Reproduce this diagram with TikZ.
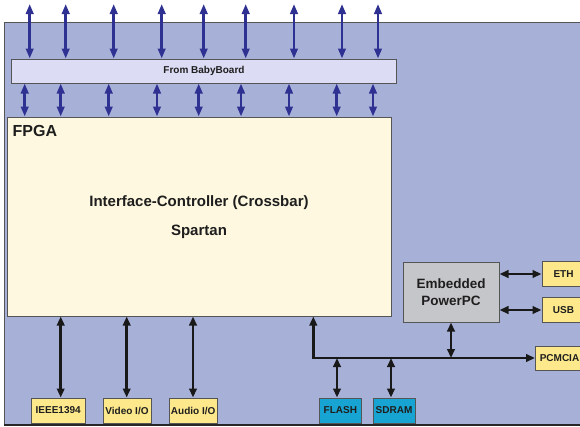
\documentclass[tikz,border=0pt]{standalone}
\usepackage{fontspec}
\setmainfont{Liberation Sans}
\usetikzlibrary{arrows.meta}
\definecolor{bgblue}{HTML}{A7B0D6}
\definecolor{bbfill}{HTML}{DCDCF4}
\definecolor{fpgafill}{HTML}{FDF8DF}
\definecolor{ylw}{HTML}{FDE98B}
\definecolor{cyanbox}{HTML}{18A4D2}
\definecolor{grayb}{HTML}{C5C6CA}
\definecolor{navy}{HTML}{2E3192}
\definecolor{edge}{HTML}{555555}
\definecolor{txt}{HTML}{1E1E1E}
\begin{document}
\begin{tikzpicture}[x=1pt,y=-1pt,
  box/.style={draw=edge,line width=1pt,inner sep=0pt,text=txt,font=\fontsize{10}{12}\selectfont\bfseries},
  smallbox/.style={box,fill=ylw,minimum height=25pt},
  cyanb/.style={box,fill=cyanbox,minimum height=25pt},
  barrow/.style={navy,line width=2.8pt,{Triangle[length=10pt,width=7.5pt]}-{Triangle[length=10pt,width=7.5pt]}},
  karrow/.style={black!90,line width=2.8pt,{Triangle[length=9pt,width=7.5pt]}-{Triangle[length=9pt,width=7.5pt]}},
  lbl/.style={inner sep=0pt,text=txt,font=\fontsize{15}{17}\selectfont\bfseries}]
\useasboundingbox (0,0) rectangle (580,426);
% background board
\fill[bgblue] (4,22) rectangle (592,425);
\draw[edge,line width=1pt] (4,425) -- (4,22) -- (592,22);
\draw[black!85,line width=1.2pt] (4,425) -- (592,425);

% BabyBoard bar
\node[box,fill=bbfill,minimum width=384.5pt,minimum height=24pt,font=\fontsize{10}{12}\selectfont\bfseries] (bb) at (204,71) {From BabyBoard};
% FPGA
\node[box,fill=fpgafill,minimum width=384pt,minimum height=199pt] (fpga) at (199,216.5) {};
\node[lbl,anchor=west,font=\fontsize{16}{18}\selectfont\bfseries] (fpgalbl) at (12.5,130.5) {FPGA};
\node[lbl] (ifc) at (199,203) {Interface-Controller (Crossbar)};
\node[lbl] (spartan) at (199,232) {Spartan};

% PowerPC
\node[box,fill=grayb,minimum width=96pt,minimum height=60pt,align=center,font=\fontsize{13.5}{17}\selectfont\bfseries] (ppc) at (451,292) {Embedded\\PowerPC};
\node[smallbox,minimum width=43pt] (eth) at (563.5,274) {ETH};
\node[smallbox,minimum width=43pt] (usb) at (563.5,310) {USB};
\node[smallbox,minimum width=48pt,minimum height=24pt] (pcm) at (559.5,358) {PCMCIA};

% bottom boxes
\node[smallbox,minimum width=54.3pt] (ieee) at (58.2,410.5) {IEEE1394};
\node[smallbox,minimum width=48pt] (video) at (127,410.5) {Video I/O};
\node[smallbox,minimum width=48.3pt] (audio) at (193.2,410.5) {Audio I/O};
\node[cyanb,minimum width=42pt] (flash) at (340.3,410.5) {FLASH};
\node[cyanb,minimum width=42pt] (sdram) at (394,410.5) {SDRAM};

% top arrows
\foreach \i/\x in {1/29.7,2/65.7,3/113.7,4/161.7,5/203.7,6/245.7,7/294,8/342,9/378}{
  \coordinate (t\i) at (\x,4);
  \draw[barrow] (t\i) -- (t\i |- bb.north);
}
% lower arrows
\foreach \i/\x in {1/24.7,2/60.7,3/108.7,4/157,5/198.7,6/241,7/289,8/336.7,9/373}{
  \coordinate (l\i) at (\x,100);
  \draw[barrow] (l\i |- bb.south) -- (l\i |- fpga.north);
}

% FPGA to I/O boxes
\coordinate (xi) at (60.7,0);
\coordinate (xv) at (126.7,0);
\coordinate (xa) at (193,0);
\draw[karrow] (xi |- fpga.south) -- (xi |- ieee.north);
\draw[karrow] (xv |- fpga.south) -- (xv |- video.north);
\draw[karrow] (xa |- fpga.south) -- (xa |- audio.north);

% bus
\coordinate (bx) at (313.3,0);
\coordinate (bus) at (313.3,358);
\draw[karrow,line join=miter] (bx |- fpga.south) |- (pcm.west);
\coordinate (xf) at (337,0);
\coordinate (xs) at (391,0);
\coordinate (xp) at (451,0);
\draw[karrow] (xf |- bus) -- (xf |- flash.north);
\draw[karrow] (xs |- bus) -- (xs |- sdram.north);
\draw[karrow] (ppc.south) -- (xp |- bus);
\draw[karrow] (ppc.east |- eth.west) -- (eth.west);
\draw[karrow] (ppc.east |- usb.west) -- (usb.west);
\end{tikzpicture}
\end{document}
